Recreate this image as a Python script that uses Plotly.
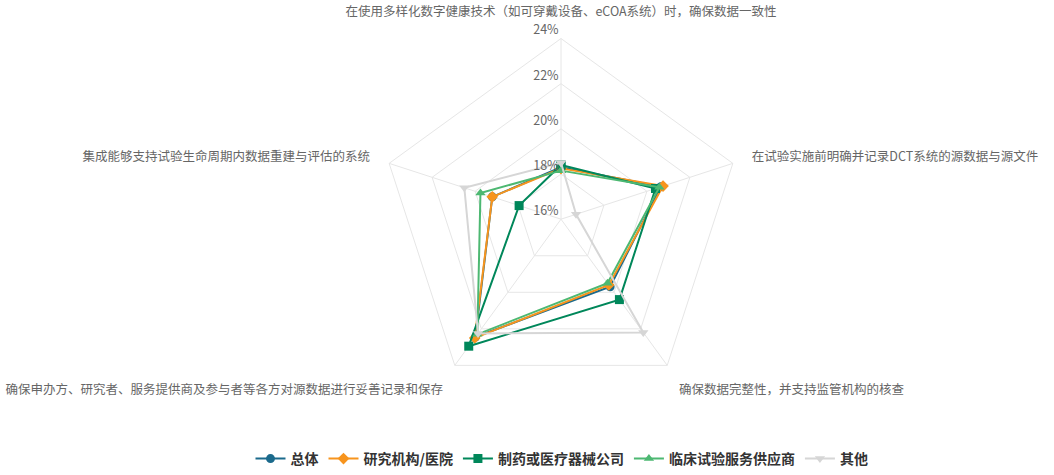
import plotly.graph_objects as go

categories = [
    "在使用多样化数字健康技术（如可穿戴设备、eCOA系统）时，确保数据一致性",
    "在试验实施前明确并记录DCT系统的源数据与源文件",
    "确保数据完整性，并支持监管机构的核查",
    "确保申办方、研究者、服务提供商及参与者等各方对源数据进行妥善记录和保存",
    "集成能够支持试验生命周期内数据重建与评估的系统",
]

series_names = ["总体", "研究机构/医院", "制药或医疗器械公司", "临床试验服务供应商", "其他"]
overall = [18.30, 20.65, 19.70, 22.45, 19.20]
research = [18.25, 20.75, 19.60, 22.50, 19.20]
pharma = [18.40, 20.40, 20.40, 22.95, 17.95]
cro = [18.15, 20.58, 19.50, 22.30, 19.75]
other = [18.50, 16.70, 22.20, 22.25, 20.50]

radial_ticks = [16, 18, 20, 22, 24]
radial_tick_labels = ["16%", "18%", "20%", "22%", "24%"]

colors = ["#1b6a8c", "#f7941d", "#00875a", "#4db872", "#d6d6d6"]
symbols = ["circle", "diamond", "square", "triangle-up", "triangle-down"]
values = [overall, research, pharma, cro, other]

fig = go.Figure()
for i in range(len(series_names)):
    v = values[i]
    fig.add_trace(go.Scatterpolar(
        r=v + [v[0]],
        theta=categories + [categories[0]],
        mode="lines+markers",
        name=series_names[i],
        line=dict(color=colors[i], width=2),
        marker=dict(symbol=symbols[i], size=9, color=colors[i]),
    ))

cx, cy, R = 561, 222, 183
W, H = 1054, 475
fig.update_layout(
    width=W, height=H,
    margin=dict(l=0, r=0, t=0, b=0),
    paper_bgcolor="white",
    font=dict(family="Noto Sans CJK SC, Noto Sans, sans-serif", size=12.5, color="#666666"),
    polar=dict(
        domain=dict(x=[(cx - R) / W, (cx + R) / W], y=[1 - (cy + R) / H, 1 - (cy - R) / H]),
        gridshape="linear",
        bgcolor="white",
        radialaxis=dict(
            range=[16, 24],
            tickvals=radial_ticks,
            ticktext=[t + "<br> " for t in radial_tick_labels],
            angle=90,
            tickangle=90,
            showline=False,
            gridcolor="#e6e6e6",
            gridwidth=1,
            ticks="",
            tickfont=dict(size=12.5, color="#666666"),
            side="counterclockwise",
        ),
        angularaxis=dict(
            rotation=90,
            direction="clockwise",
            gridcolor="#e6e6e6",
            linecolor="#e6e6e6",
            linewidth=1,
            ticks="outside",
            ticklen=17,
            tickcolor="rgba(0,0,0,0)",
            tickfont=dict(size=12.5, color="#666666"),
        ),
    ),
    legend=dict(
        orientation="h",
        x=562 / W, xanchor="center",
        y=1 - 465 / H, yanchor="middle",
        font=dict(size=14, color="#333333", weight="bold"),
        traceorder="normal",
        itemwidth=30,
    ),
)

fig.write_html(
    "out.html",
    config={"displayModeBar": False},
    post_script="document.body.style.margin='0';document.body.style.overflow='hidden';",
)
